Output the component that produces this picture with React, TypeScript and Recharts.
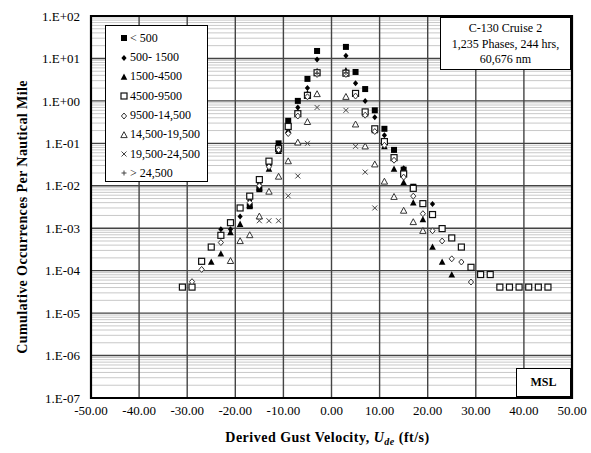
import React from "react";
import { ScatterChart, Scatter, XAxis, YAxis, CartesianGrid, ReferenceArea } from "recharts";

// gust velocity bins (ft/s), counted outward from zero
const negBins = [-3, -5, -7, -9, -11, -13, -15, -17, -19, -21, -23, -25, -27, -29, -31];
const posBins = [3, 5, 7, 9, 11, 13, 15, 17, 19, 21, 23, 25, 27, 29, 31, 33, 35, 37, 39, 41, 43, 45];

// cumulative occurrences per nm, one pair of arrays per altitude band
const under500Neg = [15, 3.3, 1.0, 0.34, 0.1, 0.035, 0.0083, 0.0033];
const under500Pos = [18.7, 4.8, 1.9, 0.6, 0.22, 0.07, 0.024, 0.0095, 0.0038];

const from500Neg = [9.5, 2.0, 0.7, 0.27, 0.085, 0.03, 0.011, 0.0045, 0.0019, 0.00094, 0.00094];
const from500Pos = [11.5, 2.6, 1.0, 0.41, 0.155, 0.07, 0.026, 0.0095, 0.0038, 0.0037];

const from1500Neg = [5.0, 1.5, 0.55, 0.2, 0.065, 0.025, 0.009, 0.0035, 0.00125, 0.0008, 0.00025, 0.00016];
const from1500Pos = [5.2, 1.5, 0.5, 0.2, 0.085, 0.025, 0.0119, 0.004, 0.0016, 0.00036, 0.00016, 0.00008];

const from4500Neg = [4.6, 1.35, 0.5, 0.25, 0.075, 0.038, 0.014, 0.0057, 0.003, 0.00135, 0.00068, 0.00036, 0.000166, 0.000041, 0.000041];
const from4500Pos = [4.5, 1.5, 0.55, 0.22, 0.11, 0.046, 0.019, 0.0087, 0.0038, 0.0021, 0.00098, 0.00059, 0.00036, 0.00012,
  0.000081, 0.000081, 0.000041, 0.000041, 0.000041, 0.000041, 0.000041, 0.000041];

const from9500Neg = [4.2, 1.25, 0.44, 0.17, 0.07, 0.028, 0.01, 0.004, null, null, 0.00046, null, 0.000107, 0.000055];
const from9500Pos = [4.2, 1.3, 0.46, 0.19, 0.09, 0.04, 0.016, 0.0057, 0.0022, 0.00087, 0.0005, 0.00019, 0.00016, 0.000054];

const from14500Neg = [1.45, 0.32, 0.105, 0.038, 0.0165, 0.0073, 0.0019, 0.00069, 0.0005, 0.00017];
const from14500Pos = [1.25, 0.28, 0.085, 0.032, 0.0126, 0.0055, 0.0026, 0.0014, 0.00087];

const from19500Neg = [0.7, 0.1, 0.017, 0.0058, 0.0015, 0.0015, 0.0015];
const from19500Pos = [0.6, 0.085, 0.021, 0.003];

const above24500Neg = [4.4];
const above24500Pos = [4.6];

const bandNames = ["< 500", "500- 1500", "1500-4500", "4500-9500", "9500-14,500", "14,500-19,500", "19,500-24,500", "> 24,500"];

const xTicks = [-50, -40, -30, -20, -10, 0, 10, 20, 30, 40, 50];
const yTicks = [1e-7, 1e-6, 1e-5, 1e-4, 1e-3, 1e-2, 1e-1, 1, 10, 100];
const yMin = 1e-7;
const yMax = 100;

const minorTicks: number[] = [];
for (let e = -7; e < 2; e++) for (let m = 2; m <= 9; m++) minorTicks.push(m * Math.pow(10, e));

function toPoints(neg: (number | null)[], pos: (number | null)[]) {
  const pts: { x: number; y: number }[] = [];
  neg.forEach((v, i) => { if (v != null) pts.push({ x: negBins[i], y: v }); });
  pos.forEach((v, i) => { if (v != null) pts.push({ x: posBins[i], y: v }); });
  return pts;
}

const series = [
  { kind: "sq", data: toPoints(under500Neg, under500Pos) },
  { kind: "dia", data: toPoints(from500Neg, from500Pos) },
  { kind: "tri", data: toPoints(from1500Neg, from1500Pos) },
  { kind: "osq", data: toPoints(from4500Neg, from4500Pos) },
  { kind: "odia", data: toPoints(from9500Neg, from9500Pos) },
  { kind: "otri", data: toPoints(from14500Neg, from14500Pos) },
  { kind: "x", data: toPoints(from19500Neg, from19500Pos) },
  { kind: "plus", data: toPoints(above24500Neg, above24500Pos) },
];

// minor log grid: use the axis scale if we get one, else map through the plot offset
function minorLines(args: any) {
  const sc = args?.yAxis?.scale;
  if (typeof sc === "function") return minorTicks.map((v) => sc(v));
  const { top, height } = args.offset;
  const span = Math.log10(yMax) - Math.log10(yMin);
  return minorTicks.map((v) => top + (height * (Math.log10(yMax) - Math.log10(v))) / span);
}

function marker(kind: string, cx: number, cy: number) {
  switch (kind) {
    case "sq":
      return <rect x={cx - 3} y={cy - 3} width={6} height={6} fill="#000" />;
    case "dia":
      return <path d={`M${cx},${cy - 3}L${cx + 2.6},${cy}L${cx},${cy + 3}L${cx - 2.6},${cy}Z`} fill="#000" />;
    case "tri":
      return <path d={`M${cx},${cy - 3.5}L${cx + 3.3},${cy + 2.8}L${cx - 3.3},${cy + 2.8}Z`} fill="#000" />;
    case "osq":
      return <rect x={cx - 3} y={cy - 3} width={6} height={6} fill="#fff" stroke="#111" strokeWidth={1.2} />;
    case "odia":
      return <path d={`M${cx},${cy - 3}L${cx + 2.6},${cy}L${cx},${cy + 3}L${cx - 2.6},${cy}Z`} fill="#fff" stroke="#333" strokeWidth={1} />;
    case "otri":
      return <path d={`M${cx},${cy - 3.3}L${cx + 3.2},${cy + 2.6}L${cx - 3.2},${cy + 2.6}Z`} fill="#fff" stroke="#333" strokeWidth={1} />;
    case "x":
      return (
        <g stroke="#444" strokeWidth={1}>
          <line x1={cx - 2.5} y1={cy - 2.5} x2={cx + 2.5} y2={cy + 2.5} />
          <line x1={cx - 2.5} y1={cy + 2.5} x2={cx + 2.5} y2={cy - 2.5} />
        </g>
      );
    default:
      return (
        <g stroke="#444" strokeWidth={1}>
          <line x1={cx - 2.5} y1={cy} x2={cx + 2.5} y2={cy} />
          <line x1={cx} y1={cy - 2.5} x2={cx} y2={cy + 2.5} />
        </g>
      );
  }
}

const fmtY = (v: number) => {
  const e = Math.round(Math.log10(v));
  return `1.E${e < 0 ? "-" : "+"}${String(Math.abs(e)).padStart(2, "0")}`;
};

const font = "'Liberation Serif', 'Times New Roman', serif";

export default function App() {
  return (
    <div style={{ position: "absolute", left: 0, top: 0, width: 591, height: 453, background: "#fff", fontFamily: font }}>
      <ScatterChart width={591} height={453} margin={{ top: 16, right: 19, bottom: 0, left: 0 }}>
        <CartesianGrid vertical={false} stroke="#c8c8c8" strokeWidth={1} horizontalCoordinatesGenerator={minorLines} />
        <CartesianGrid stroke="#444" strokeWidth={1.4} />
        <XAxis
          type="number"
          dataKey="x"
          domain={[-50, 50]}
          ticks={xTicks}
          allowDataOverflow
          axisLine={false}
          tickLine={false}
          height={55}
          tickFormatter={(v: number) => v.toFixed(2)}
          tick={{ fill: "#000", fontSize: 13, fontFamily: font }}
          label={{
            content: ({ viewBox }: any) => (
              <text x={viewBox.x + viewBox.width / 2 - 4} y={viewBox.y + 44} textAnchor="middle" fontFamily={font} fontSize={14} letterSpacing={0.5} fontWeight="bold" fill="#000">
                Derived Gust Velocity,{" "}
                <tspan fontStyle="italic">U</tspan>
                <tspan fontStyle="italic" fontSize={10} dy={3}>de</tspan>
                <tspan dy={-3}> (ft/s)</tspan>
              </text>
            ),
          }}
        />
        <YAxis
          type="number"
          dataKey="y"
          scale="log"
          domain={[yMin, yMax]}
          ticks={yTicks}
          allowDataOverflow
          axisLine={false}
          tickLine={false}
          width={91}
          tickMargin={5}
          tickFormatter={fmtY}
          tick={{ fill: "#000", fontSize: 13, fontFamily: font }}
          label={{
            content: ({ viewBox }: any) => {
              const cx = viewBox.x + 22;
              const cy = viewBox.y + viewBox.height / 2 + 10;
              return (
                <text x={cx} y={cy} transform={`rotate(-90 ${cx} ${cy})`} textAnchor="middle" dominantBaseline="central" fontFamily={font} fontSize={14} letterSpacing={0.4} fontWeight="bold" fill="#000">
                  Cumulative Occurrences Per Nautical Mile
                </text>
              );
            },
          }}
        />
        <ReferenceArea x1={-50} x2={50} y1={yMin} y2={yMax} fill="none" stroke="#000" strokeWidth={2.2} ifOverflow="visible" />
        {series.map((s, i) => (
          <Scatter
            key={i}
            name={bandNames[i]}
            data={s.data}
            isAnimationActive={false}
            shape={(p: any) => marker(s.kind, p.cx, p.cy)}
          />
        ))}
      </ScatterChart>

      <div style={{ position: "absolute", left: 105, top: 25, width: 103, height: 157, boxSizing: "border-box", border: "1px solid #000", background: "#fff" }}>
        {series.map((s, i) => (
          <div key={i} style={{ position: "absolute", left: 0, top: 12.3 + i * 19.3 - 9, height: 18, display: "flex", alignItems: "center", fontSize: 12, color: "#000" }}>
            <svg width={24} height={18} style={{ display: "block" }}>
              {marker(s.kind, 18, 9)}
            </svg>
            <span>{bandNames[i]}</span>
          </div>
        ))}
      </div>

      <div style={{ position: "absolute", left: 440, top: 17, width: 131, height: 53, boxSizing: "border-box", border: "1px solid #000", background: "#fff", textAlign: "center", fontSize: 12, lineHeight: "15.5px", paddingTop: 3, color: "#000" }}>
        <div>C-130 Cruise 2</div>
        <div>1,235 Phases, 244 hrs,</div>
        <div>60,676 nm</div>
      </div>

      <div style={{ position: "absolute", left: 516, top: 368, width: 55, height: 29, boxSizing: "border-box", border: "1px solid #000", background: "#fff", display: "flex", alignItems: "center", justifyContent: "center", fontSize: 12, fontWeight: "bold", color: "#000" }}>
        MSL
      </div>
    </div>
  );
}
